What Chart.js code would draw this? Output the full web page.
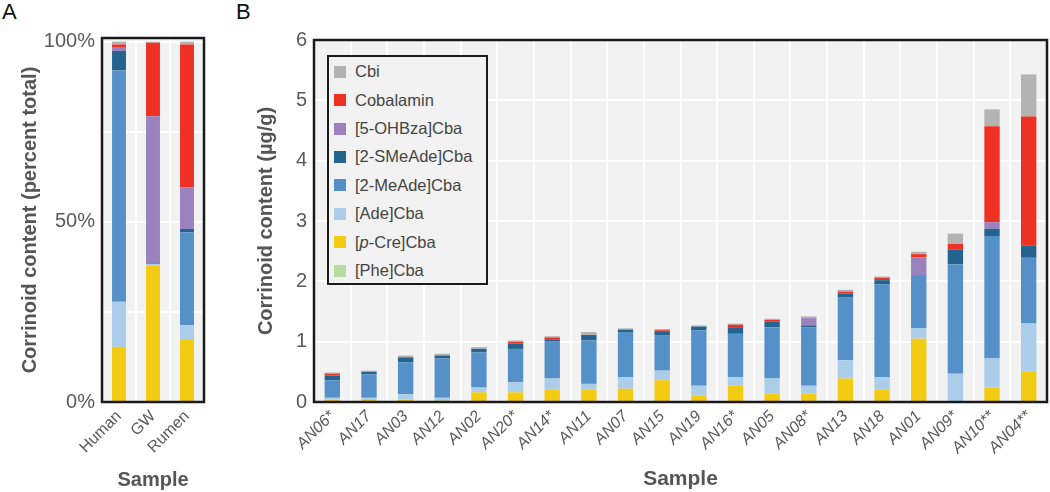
<!DOCTYPE html>
<html>
<head>
<meta charset="utf-8">
<script src="https://cdn.jsdelivr.net/npm/chart.js@4.4.1/dist/chart.umd.min.js"></script>
<style>
  html, body { margin:0; padding:0; background:#fff; }
  body { width:1050px; height:492px; position:relative; overflow:hidden; font-family:'Liberation Sans', Arial, sans-serif; }
  .panel { position:absolute; font-size:22px; color:#111; }
  #wrapA { position:absolute; left:0; top:0; width:215px; height:492px; }
  #wrapB { position:absolute; left:232px; top:0; width:818px; height:492px; }
  #legend { position:absolute; left:327px; top:55px; width:157px; height:226px; border:2px solid #1a1a1a; background:#f2f2f2; box-sizing:content-box; }
  .row { position:absolute; left:0; height:20px; display:flex; align-items:center; font-size:16.5px; color:#444; white-space:nowrap; }
  .sw { width:12px; height:12px; margin-left:5px; margin-right:9px; }
</style>
</head>
<body>
<div class="panel" style="left:2px;top:-1px;">A</div>
<div class="panel" style="left:236px;top:-1px;">B</div>
<div id="wrapA"><canvas id="cA" width="215" height="492"></canvas></div>
<div id="wrapB"><canvas id="cB" width="818" height="492"></canvas></div>
<div id="legend"></div>
<script>
// ---- series (bottom to top of stack) ----
const seriesNames = ['[Phe]Cba', '[p-Cre]Cba', '[Ade]Cba', '[2-MeAde]Cba', '[2-SMeAde]Cba', '[5-OHBza]Cba', 'Cobalamin', 'Cbi'];
const seriesColors = ['#b7dca1', '#f2cb12', '#abcdea', '#5590c8', '#25638f', '#9a82bd', '#ef3124', '#b3b3b3'];

// ---- Panel A: percent of total ----
const categoriesA = ['Human', 'GW', 'Rumen'];
const pheA    = [0, 0, 0];
const pCreA   = [15.3, 37.8, 17.2];
const adeA    = [12.5, 0.5, 4.1];
const meAdeA  = [64.2, 0.3, 25.8];
const sMeAdeA = [5.4, 0, 0.9];
const ohBzaA  = [0.9, 40.7, 11.6];
const cblA    = [0.9, 20.4, 39.6];
const cbiA    = [0.8, 0.3, 0.8];
const tickLabelsA = [0, 25, 50, 75, 100];

// ---- Panel B: µg/g ----
const categoriesB = ['AN06*', 'AN17', 'AN03', 'AN12', 'AN02', 'AN20*', 'AN14*', 'AN11', 'AN07', 'AN15', 'AN19', 'AN16*', 'AN05', 'AN08*', 'AN13', 'AN18', 'AN01', 'AN09*', 'AN10**', 'AN04**'];
const pheB    = [0, 0, 0, 0, 0, 0, 0, 0, 0, 0, 0, 0, 0, 0, 0, 0, 0, 0, 0, 0];
const pCreB   = [0.04, 0.05, 0.04, 0.02, 0.16, 0.16, 0.21, 0.21, 0.22, 0.36, 0.11, 0.27, 0.14, 0.14, 0.39, 0.21, 1.05, 0, 0.24, 0.50];
const adeB    = [0.03, 0.02, 0.09, 0.05, 0.08, 0.17, 0.18, 0.09, 0.19, 0.16, 0.16, 0.14, 0.25, 0.13, 0.30, 0.20, 0.17, 0.47, 0.48, 0.80];
const meAdeB  = [0.29, 0.39, 0.53, 0.65, 0.58, 0.55, 0.62, 0.72, 0.75, 0.59, 0.92, 0.72, 0.85, 0.97, 1.04, 1.54, 0.87, 1.81, 2.03, 1.09];
const sMeAdeB = [0.08, 0.04, 0.08, 0.05, 0.06, 0.09, 0.03, 0.09, 0.04, 0.05, 0.06, 0.11, 0.09, 0.03, 0.07, 0.07, 0.01, 0.25, 0.12, 0.20];
const ohBzaB  = [0, 0, 0, 0, 0, 0, 0, 0, 0, 0, 0, 0, 0, 0.12, 0, 0, 0.30, 0, 0.11, 0];
const cblB    = [0.03, 0, 0, 0, 0, 0.03, 0.03, 0, 0, 0.03, 0, 0.04, 0.03, 0, 0.03, 0.04, 0.05, 0.09, 1.59, 2.14];
const cbiB    = [0.02, 0.02, 0.03, 0.03, 0.03, 0.02, 0.02, 0.05, 0.02, 0.02, 0.02, 0.02, 0.02, 0.03, 0.03, 0.02, 0.04, 0.17, 0.28, 0.70];

const FONT = "'Liberation Sans', Arial, sans-serif";
const seriesA = [pheA, pCreA, adeA, meAdeA, sMeAdeA, ohBzaA, cblA, cbiA];
const seriesB = [pheB, pCreB, adeB, meAdeB, sMeAdeB, ohBzaB, cblB, cbiB];

function makeDatasets(series, barPct) {
  return series.map((d, i) => ({
    label: seriesNames[i], data: d, backgroundColor: seriesColors[i],
    borderWidth: 0, barPercentage: barPct, categoryPercentage: 1.0
  }));
}

const framePlugin = {
  id: 'frame',
  beforeDraw(chart) {
    const a = chart.chartArea, ctx = chart.ctx;
    ctx.save(); ctx.fillStyle = '#f2f2f2';
    ctx.fillRect(a.left, a.top, a.right - a.left, a.bottom - a.top);
    ctx.restore();
  },
  afterDraw(chart) {
    const a = chart.chartArea, ctx = chart.ctx;
    ctx.save(); ctx.strokeStyle = '#1a1a1a'; ctx.lineWidth = 2.5;
    ctx.strokeRect(a.left, a.top, a.right - a.left, a.bottom - a.top);
    ctx.restore();
  }
};

function common(opts) {
  return {
    responsive: false, animation: false,
    layout: { padding: opts.padding },
    plugins: { legend: { display: false }, tooltip: { enabled: false } },
    scales: {
      x: {
        stacked: true,
        grid: { color: '#ffffff', lineWidth: 2, drawTicks: false, offset: true },
        border: { display: false },
        ticks: { color: '#5a5a5a', font: { family: FONT, size: 16, style: opts.xStyle }, minRotation: 45, maxRotation: 45, autoSkip: false, padding: 5 },
        title: { display: true, text: 'Sample', color: '#555', font: { family: FONT, size: opts.xTitleSize, weight: 'bold' }, padding: { top: 0, bottom: 0 } },
        afterFit(s) { s.height = opts.xHeight; }
      },
      y: {
        stacked: true, min: 0, max: opts.yMax,
        grid: { color: '#ffffff', lineWidth: 2, drawTicks: false },
        border: { display: false },
        ticks: { color: '#5a5a5a', font: { family: FONT, size: 20 }, padding: 7, callback: opts.yCallback },
        afterBuildTicks: opts.afterBuildTicks,
        title: { display: true, text: opts.yTitle, color: '#555', font: { family: FONT, size: 20, weight: 'bold' }, padding: { top: opts.yTitlePad, bottom: 0 } },
        afterFit(s) { s.width = opts.yWidth; }
      }
    }
  };
}

new Chart(document.getElementById('cA'), {
  type: 'bar',
  data: { labels: categoriesA, datasets: makeDatasets(seriesA, 0.41) },
  options: common({
    padding: { top: 38, right: 11, bottom: 0, left: 0 },
    xHeight: 90, xStyle: 'normal', xTitleSize: 20, yMax: 101, yWidth: 102, yTitlePad: 18,
    yTitle: 'Corrinoid content (percent total)',
    yCallback: v => (v % 50 === 0 ? v + '%' : ''),
    afterBuildTicks: s => { s.ticks = tickLabelsA.map(v => ({ value: v })); }
  }),
  plugins: [framePlugin]
});

new Chart(document.getElementById('cB'), {
  type: 'bar',
  data: { labels: categoriesB, datasets: makeDatasets(seriesB, 0.42) },
  options: common({
    padding: { top: 40, right: 3, bottom: 0, left: 0 },
    xHeight: 90, xStyle: 'italic', xTitleSize: 21, yMax: 6, yWidth: 82, yTitlePad: 22,
    yTitle: 'Corrinoid content (µg/g)',
    yCallback: v => v,
    afterBuildTicks: s => { s.ticks = [0, 1, 2, 3, 4, 5, 6].map(v => ({ value: v })); }
  }),
  plugins: [framePlugin]
});

// HTML legend (top to bottom: reversed series order)
const legend = document.getElementById('legend');
seriesNames.slice().reverse().forEach((name, k) => {
  const i = seriesNames.length - 1 - k;
  const row = document.createElement('div');
  row.className = 'row';
  row.style.top = (16.7 - 2 - 10 + k * 28.4) + 'px';
  const sw = document.createElement('span');
  sw.className = 'sw'; sw.style.background = seriesColors[i];
  const tx = document.createElement('span');
  if (name === '[p-Cre]Cba') { tx.innerHTML = '[<i>p</i>-Cre]Cba'; } else { tx.textContent = name; }
  row.appendChild(sw); row.appendChild(tx);
  legend.appendChild(row);
});
</script>
</body>
</html>
